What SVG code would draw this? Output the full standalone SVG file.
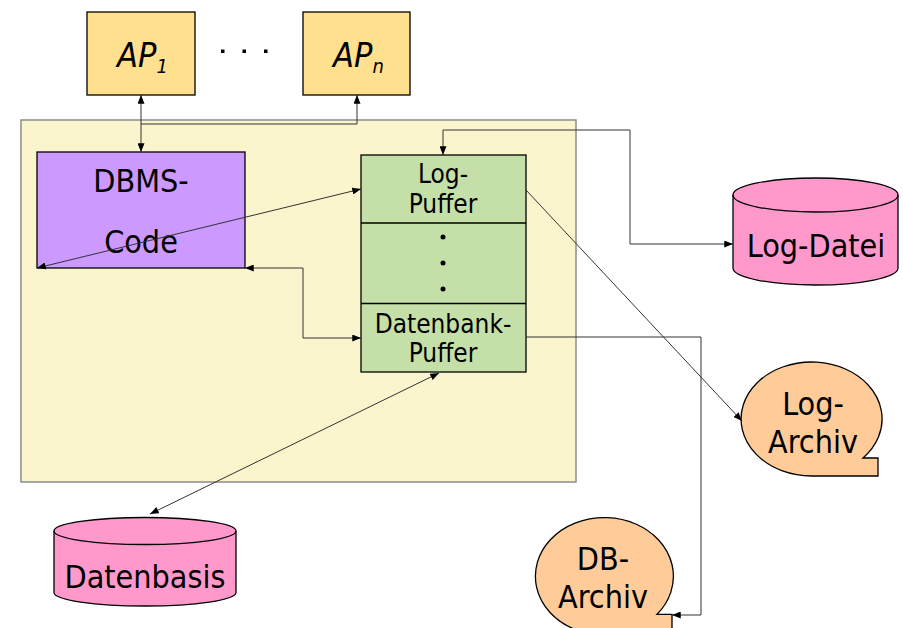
<svg xmlns="http://www.w3.org/2000/svg" width="903" height="628" viewBox="0 0 903 628">
<style>
text{font-family:"DejaVu Sans Condensed","DejaVu Sans","Liberation Sans",sans-serif;fill:#000;text-anchor:middle}
.big{font-size:32px}
.mid{font-size:26px}
.ap{font-size:34px;font-style:italic;text-anchor:start}
.box{stroke:#000;stroke-width:1.3}
.con{fill:none;stroke:#333;stroke-width:1}
</style>
<defs>
<marker id="arr" viewBox="0 0 10 8" refX="10" refY="4" markerWidth="9" markerHeight="7" markerUnits="userSpaceOnUse" orient="auto-start-reverse">
<path d="M0,0 L10,4 L0,8 z" fill="#000"/>
</marker>
</defs>
<rect id="dbms-system" x="21" y="120" width="555" height="362" fill="#FBF5CD" stroke="#8c8c8c" stroke-width="1.5"/>
<g id="ap1">
<rect class="box" x="87" y="12" width="108" height="83" fill="#FFE08F"/>
<text class="ap" x="117" y="67">AP<tspan font-size="20" dy="6">1</tspan></text>
</g>
<g id="dots">
<rect x="221" y="49.5" width="3.5" height="3.5" fill="#000"/>
<rect x="242.5" y="49.5" width="3.5" height="3.5" fill="#000"/>
<rect x="264" y="49.5" width="3.5" height="3.5" fill="#000"/>
</g>
<g id="apn">
<rect class="box" x="303" y="12" width="107" height="83" fill="#FFE08F"/>
<text class="ap" x="333" y="67">AP<tspan font-size="20" dy="6">n</tspan></text>
</g>
<g id="dbms-code">
<rect class="box" x="37" y="152" width="208" height="116" fill="#CC99FF"/>
<text class="big" x="141" y="192">DBMS-</text>
<text class="big" x="141" y="253">Code</text>
</g>
<g id="puffer">
<rect class="box" x="361" y="155" width="165" height="217" fill="#C4DFA7"/>
<line class="box" x1="361" y1="223" x2="526" y2="223"/>
<line class="box" x1="361" y1="303.5" x2="526" y2="303.5"/>
<text class="mid" x="443" y="183">Log-</text>
<text class="mid" x="443" y="213">Puffer</text>
<circle cx="443" cy="237" r="2.5" fill="#000"/>
<circle cx="443" cy="263" r="2.5" fill="#000"/>
<circle cx="443" cy="289" r="2.5" fill="#000"/>
<text class="mid" x="443" y="333">Datenbank-</text>
<text class="mid" x="443" y="362">Puffer</text>
</g>
<g id="log-datei">
<path class="box" d="M733,195 V268 A82.5,17 0 0 0 898,268 V195 A82.5,17 0 0 0 733,195 Z" fill="#FF99CC"/>
<path class="box" d="M733,195 A82.5,17 0 0 0 898,195" fill="none"/>
<text class="big" x="816" y="257">Log-Datei</text>
</g>
<g id="datenbasis">
<path class="box" d="M54,531 V592.5 A91,13.5 0 0 0 236,592.5 V531 A91,13.5 0 0 0 54,531 Z" fill="#FF99CC"/>
<path class="box" d="M54,531 A91,13.5 0 0 0 236,531" fill="none"/>
<text class="big" x="145" y="588">Datenbasis</text>
</g>
<g id="log-archiv">
<path class="box" d="M863,458 L878,458 L878,476 L812,476 A70.5,57 0 1 1 863,458 Z" fill="#FFCC99"/>
<text class="big" x="813" y="415">Log-</text>
<text class="big" x="813" y="453">Archiv</text>
</g>
<g id="db-archiv">
<path class="box" d="M657,614.3 L672,614.3 L672,635 L604,635 A69,58.7 0 1 1 657,614.3 Z" fill="#FFCC99"/>
<text class="big" x="603" y="570">DB-</text>
<text class="big" x="603" y="608">Archiv</text>
</g>
<g id="connectors">
<path class="con" d="M141,95 V152" marker-start="url(#arr)" marker-end="url(#arr)"/>
<path class="con" d="M141,124 H357 V95" marker-end="url(#arr)"/>
<path class="con" d="M443,155 V130 H630 V244 H733" marker-start="url(#arr)" marker-end="url(#arr)"/>
<path class="con" d="M37,268 L361,189" marker-start="url(#arr)" marker-end="url(#arr)"/>
<path class="con" d="M245,268 H303 V338 H361" marker-start="url(#arr)" marker-end="url(#arr)"/>
<path class="con" d="M439,373 L150,514" marker-start="url(#arr)" marker-end="url(#arr)"/>
<path class="con" d="M526,190 L742,421" marker-end="url(#arr)"/>
<path class="con" d="M526,337 H701 V615 H672" marker-end="url(#arr)"/>
</g>
</svg>
